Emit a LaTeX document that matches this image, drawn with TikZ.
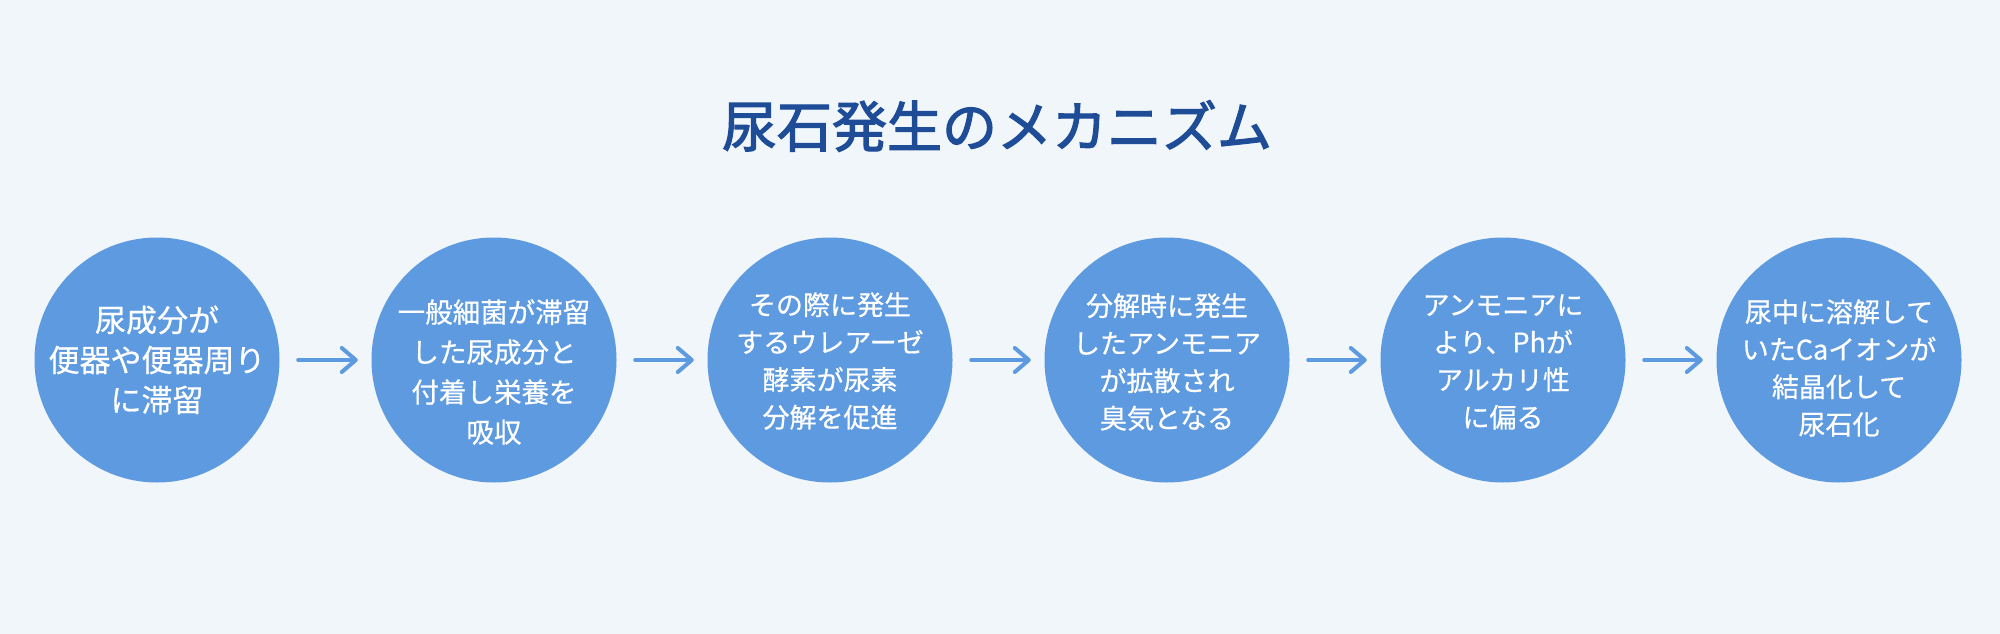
\documentclass[tikz,border=0pt]{standalone}
\usepackage{fontspec}
\setmainfont{Noto Sans CJK JP}
\newfontfamily\titlefont{Noto Sans CJK JP}[FakeBold=2.2]
\newfontfamily\circfont{Noto Sans CJK JP}[FakeBold=0.6]
\usetikzlibrary{arrows.meta}
\definecolor{bgc}{HTML}{F1F6FB}
\definecolor{circc}{HTML}{5D9AE0}
\definecolor{titlec}{HTML}{1E4C97}
\begin{document}
\begin{tikzpicture}[x=1pt,y=-1pt,
  circ/.style={circle,fill=circc,minimum size=245pt,inner sep=0pt},
  txtbig/.style={text=white,align=center,font=\circfont\fontsize{31}{40}\selectfont},
  txtmid/.style={text=white,align=center,font=\circfont\fontsize{27.5}{40}\selectfont},
  txtsm/.style={text=white,align=center,font=\circfont\fontsize{27}{37.5}\selectfont},
  arr/.style={draw=circc,line width=4pt,line cap=round,
    -{Straight Barb[length=14pt,width=24pt,line cap=round,line join=round]},
    shorten <=18.5pt,shorten >=13.5pt}]
\fill[bgc] (0,0) rectangle (2000,634);
\useasboundingbox (0,0) rectangle (2000,634);
\node[text=titlec,font=\titlefont\fontsize{55}{60}\selectfont] (title) at (997,126) {尿石発生のメカニズム};
\node[circ] (c1) at (157,360) {};
\node[circ] (c2) at (494,360) {};
\node[circ] (c3) at (830,360) {};
\node[circ] (c4) at (1167,360) {};
\node[circ] (c5) at (1503,360) {};
\node[circ] (c6) at (1839,360) {};
\node[txtbig] (t1) at (157,360) {尿成分が\\便器や便器周り\\に滞留};
\node[txtmid] (t2) at (494,372) {一般細菌が滞留\\した尿成分と\\付着し栄養を\\吸収};
\node[txtsm] (t3) at (830,361) {その際に発生\\するウレアーゼ\\酵素が尿素\\分解を促進};
\node[txtsm] (t4) at (1167,362) {分解時に発生\\したアンモニア\\が拡散され\\臭気となる};
\node[txtsm] (t5) at (1503,362) {アンモニアに\\より、Phが\\アルカリ性\\に偏る};
\node[txtsm] (t6) at (1839,368) {尿中に溶解して\\いたCaイオンが\\結晶化して\\尿石化};
\draw[arr] (c1) -- (c2);
\draw[arr] (c2) -- (c3);
\draw[arr] (c3) -- (c4);
\draw[arr] (c4) -- (c5);
\draw[arr] (c5) -- (c6);
\end{tikzpicture}
\end{document}
